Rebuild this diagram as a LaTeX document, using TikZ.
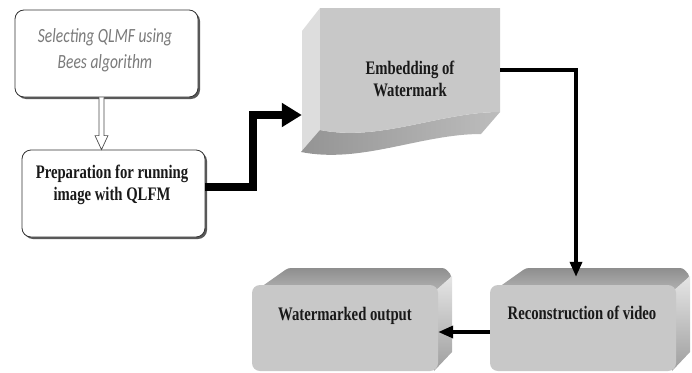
\documentclass[tikz,border=0pt]{standalone}
\usepackage{graphicx}
\usepackage{fontspec}
\setmainfont{Liberation Serif}
\newfontfamily\calibri{Carlito}
\usepackage{tikz}
\usetikzlibrary{arrows.meta,calc,shadows}

\definecolor{facegray}{RGB}{200,200,200}
\definecolor{sidegray}{RGB}{221,221,221}
\definecolor{topdark}{RGB}{142,142,142}
\definecolor{toplight}{RGB}{180,180,180}
\definecolor{selgray}{RGB}{122,122,122}

% text is stretched upright in the original
\newcommand{\tallrows}[1]{\scalebox{1}[1.3]{\begin{tabular}{@{}c@{}}#1\end{tabular}}}

\tikzset{
  roundbox/.style={draw=black!80, line width=0.8pt, fill=white, rounded corners=9pt,
    minimum width=183pt, minimum height=87pt, inner sep=0pt,
    drop shadow={shadow xshift=2pt, shadow yshift=-2pt, fill=black!65, opacity=1}},
  slabface/.style={fill=facegray, rounded corners=8pt, minimum width=186pt,
    minimum height=86pt, inner sep=0pt},
  boldtext/.style={font=\fontsize{14.7}{16.5}\selectfont\bfseries, text=black!90},
  fatarrow/.style={line width=8pt, line join=miter, -{Triangle[length=20pt,width=23pt]}},
  thinarrow/.style={line width=3.5pt, line join=miter, -{Triangle[length=15pt,width=12pt]}},
  hollowarrow/.style={draw=black!70, line width=0.7pt, fill=white}
}

\begin{document}
\begin{tikzpicture}[x=1pt,y=-1pt]
\useasboundingbox (0,0) rectangle (692,372);
\clip (0,0) rectangle (692,372);

% Embedding block (wavy slab)
\fill[sidegray] (320,8) -- (302,31) -- (302,152) -- (320,130) -- cycle;
\shade[left color=black!42, right color=black!26]
  (500,112) .. controls (440,112) and (380,142) .. (320,130)
  -- (301,152) .. controls (361,164) and (421,134) .. (481,134) -- cycle;
\fill[facegray] (320,8) -- (500,8) -- (500,112)
  .. controls (440,112) and (380,142) .. (320,130) -- cycle;
\node (emb) [minimum width=198pt, minimum height=144pt, inner sep=0pt] at (401,80) {};

% Bottom slabs: top and right faces
\foreach \x in {0,238} {
  \shade[top color=topdark, bottom color=toplight, rounded corners=3pt]
    (254+\x,292) -- (288+\x,268) -- (445+\x,268) -- (452+\x,276) -- (440+\x,292) -- cycle;
  \shade[top color=black!10, bottom color=black!38]
    (434+\x,292) -- (452+\x,276) -- (452+\x,352) -- (434+\x,371) -- cycle;
}
\node (wm) [slabface] at (345,328) {};
\node (recon) [slabface] at (583,328) {};

% Rounded boxes
\node (sel) [roundbox] at (106.5,53.5) {};
\node (prep) [roundbox] at (113.5,193.5) {};

% Texts
\node (seltxt) [font=\calibri\itshape\fontsize{15.5}{19.8}\selectfont, text=selgray]
  at (105,50) {\tallrows{Selecting QLMF using\\Bees algorithm}};
\node (preptxt) [boldtext] at (112,185) {\tallrows{Preparation for running\\image with QLFM}};
\node (embtxt) [boldtext] at (410,81) {\tallrows{Embedding of\\Watermark}};
\node (wmtxt) [boldtext] at (345,316) {\tallrows{Watermarked output}};
\node (rectxt) [boldtext] at (582,315) {\tallrows{Reconstruction of video}};

% Arrows
\coordinate (h1) at ($(sel.south)+(-5,0)$);
\coordinate (h2) at (h1 |- prep.north);
\draw[hollowarrow] ([xshift=-2.5pt]h1) -- ([xshift=-2.5pt,yshift=14pt]h2)
  -- ([xshift=-6.5pt,yshift=14pt]h2) -- (h2) -- ([xshift=6.5pt,yshift=14pt]h2)
  -- ([xshift=2.5pt,yshift=14pt]h2) -- ([xshift=2.5pt]h1);
\draw[fatarrow] ([yshift=6.5pt]prep.east) -- ++(48,0) |- ([yshift=-35pt]emb.west);
\draw[thinarrow] ([yshift=10pt]emb.east) -| ([xshift=-7pt,yshift=8pt]recon.north);
\draw[thinarrow] ([yshift=-4pt]recon.west) -- ([yshift=-4pt]wm.east);
\end{tikzpicture}
\end{document}
